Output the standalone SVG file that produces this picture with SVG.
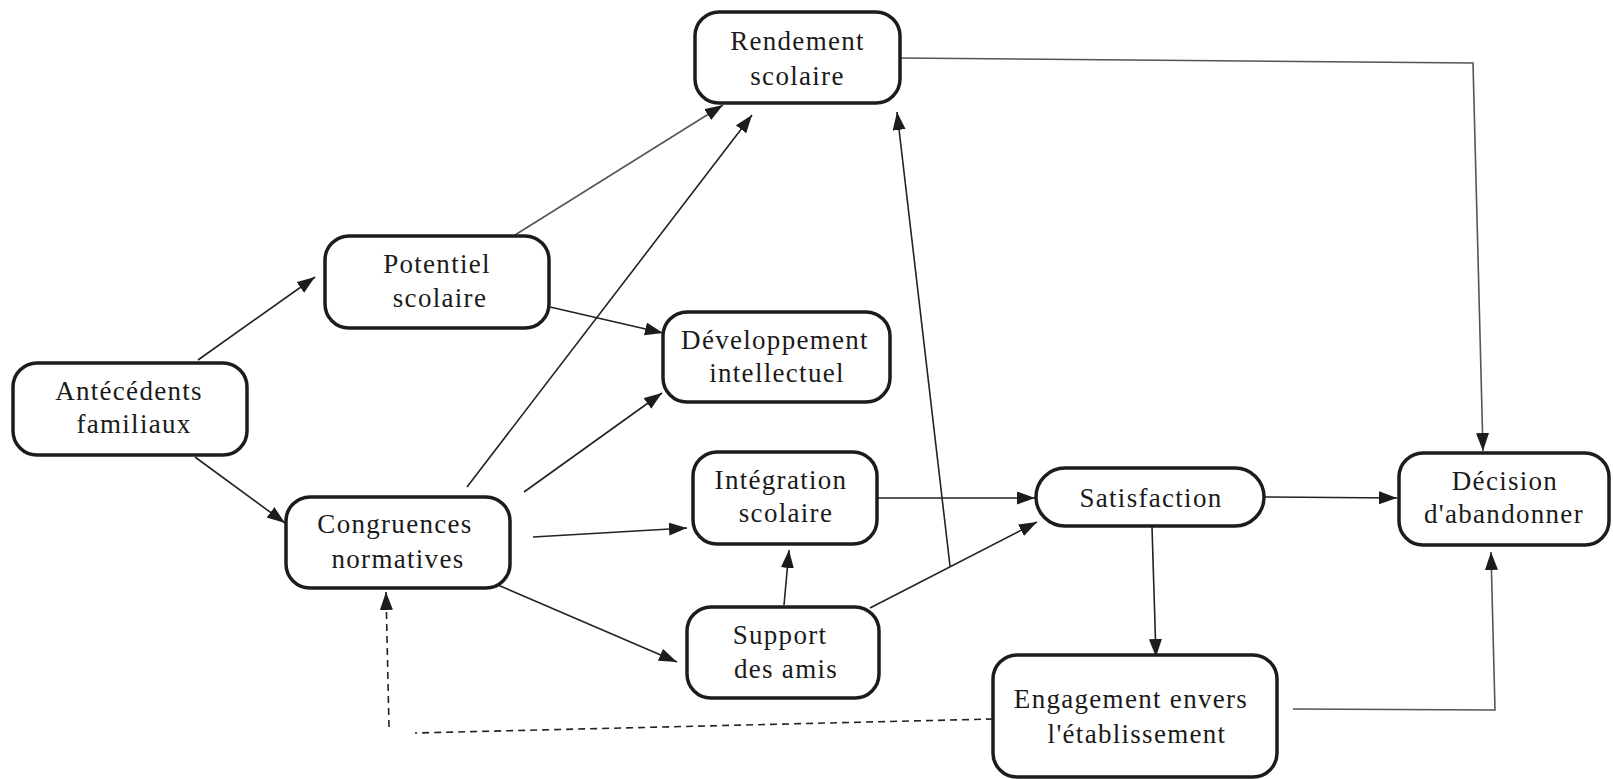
<svg xmlns="http://www.w3.org/2000/svg" width="1613" height="779" viewBox="0 0 1613 779">
  <style>
    .box { fill: #ffffff; stroke: #1c1c1c; stroke-width: 3.5; }
    .lbl { font-family: "Liberation Serif", "Times New Roman", serif; font-size: 27px; letter-spacing: 1.3px; fill: #1a1a1a; text-anchor: middle; }
    .edge { fill: none; stroke: #222222; stroke-width: 1.6; marker-end: url(#arrow); }
    .soft { stroke: #555555; }
    .dash { stroke-dasharray: 7 5; }
  </style>
  <defs>
    <marker id="arrow" markerUnits="userSpaceOnUse" markerWidth="20" markerHeight="14" refX="18" refY="6.5" orient="auto">
      <path d="M0,0 L18,6.5 L0,13 Z" fill="#1c1c1c"/>
    </marker>
  </defs>

  <!-- connectors -->
  <g id="connectors">
    <path class="edge" d="M198,360 L315,277"/>
    <path class="edge" d="M195,457 L285,523"/>
    <path class="edge soft" d="M515,235 L723,105"/>
    <path class="edge" d="M467,487 L752,115"/>
    <path class="edge" d="M550,307 L663,333"/>
    <path class="edge" d="M524,492 L662,393"/>
    <path class="edge" d="M533,537 L687,528"/>
    <path class="edge" d="M498,585 L677,662"/>
    <path class="edge" d="M784,605 L789,550"/>
    <path class="edge" d="M878,498 L1035,498"/>
    <path class="edge" d="M870,608 L1037,522"/>
    <path class="edge" d="M950,566 L897,112"/>
    <path class="edge" d="M1265,497 L1397,498"/>
    <path class="edge soft" d="M900,58 L1473,63 L1483,451"/>
    <path class="edge" d="M1152,527 L1156,657"/>
    <path class="edge soft" d="M1293,709 L1495,710 L1491,552"/>
    <path class="edge dash" d="M993,719 L415,733 M389,727 L386,592"/>
  </g>

  <!-- nodes -->
  <g id="rendement">
    <rect class="box" x="695" y="12" width="205" height="91" rx="24"/>
    <text class="lbl" x="797.5" y="50">Rendement</text>
    <text class="lbl" x="797.5" y="85">scolaire</text>
  </g>
  <g id="potentiel">
    <rect class="box" x="325" y="236" width="224" height="92" rx="24"/>
    <text class="lbl" x="437" y="273">Potentiel</text>
    <text class="lbl" x="440" y="307">scolaire</text>
  </g>
  <g id="developpement">
    <rect class="box" x="663" y="312" width="227" height="90" rx="24"/>
    <text class="lbl" x="775" y="349">Développement</text>
    <text class="lbl" x="777" y="382">intellectuel</text>
  </g>
  <g id="antecedents">
    <rect class="box" x="13" y="363" width="234" height="92" rx="24"/>
    <text class="lbl" x="129" y="400">Antécédents</text>
    <text class="lbl" x="134" y="433">familiaux</text>
  </g>
  <g id="congruences">
    <rect class="box" x="286" y="497" width="224" height="91" rx="24"/>
    <text class="lbl" x="395" y="533">Congruences</text>
    <text class="lbl" x="398" y="568">normatives</text>
  </g>
  <g id="integration">
    <rect class="box" x="693" y="452" width="184" height="92" rx="24"/>
    <text class="lbl" x="781" y="489">Intégration</text>
    <text class="lbl" x="786" y="522">scolaire</text>
  </g>
  <g id="satisfaction">
    <rect class="box" x="1036" y="468" width="228" height="58" rx="29"/>
    <text class="lbl" x="1151" y="507">Satisfaction</text>
  </g>
  <g id="decision">
    <rect class="box" x="1399" y="453" width="210" height="92" rx="24"/>
    <text class="lbl" x="1505" y="490">Décision</text>
    <text class="lbl" x="1504" y="523">d'abandonner</text>
  </g>
  <g id="support">
    <rect class="box" x="687" y="607" width="192" height="91" rx="24"/>
    <text class="lbl" x="780" y="644">Support</text>
    <text class="lbl" x="786" y="678">des amis</text>
  </g>
  <g id="engagement">
    <rect class="box" x="993" y="655" width="284" height="122" rx="24"/>
    <text class="lbl" x="1131" y="708">Engagement envers</text>
    <text class="lbl" x="1137" y="743">l'établissement</text>
  </g>
</svg>
